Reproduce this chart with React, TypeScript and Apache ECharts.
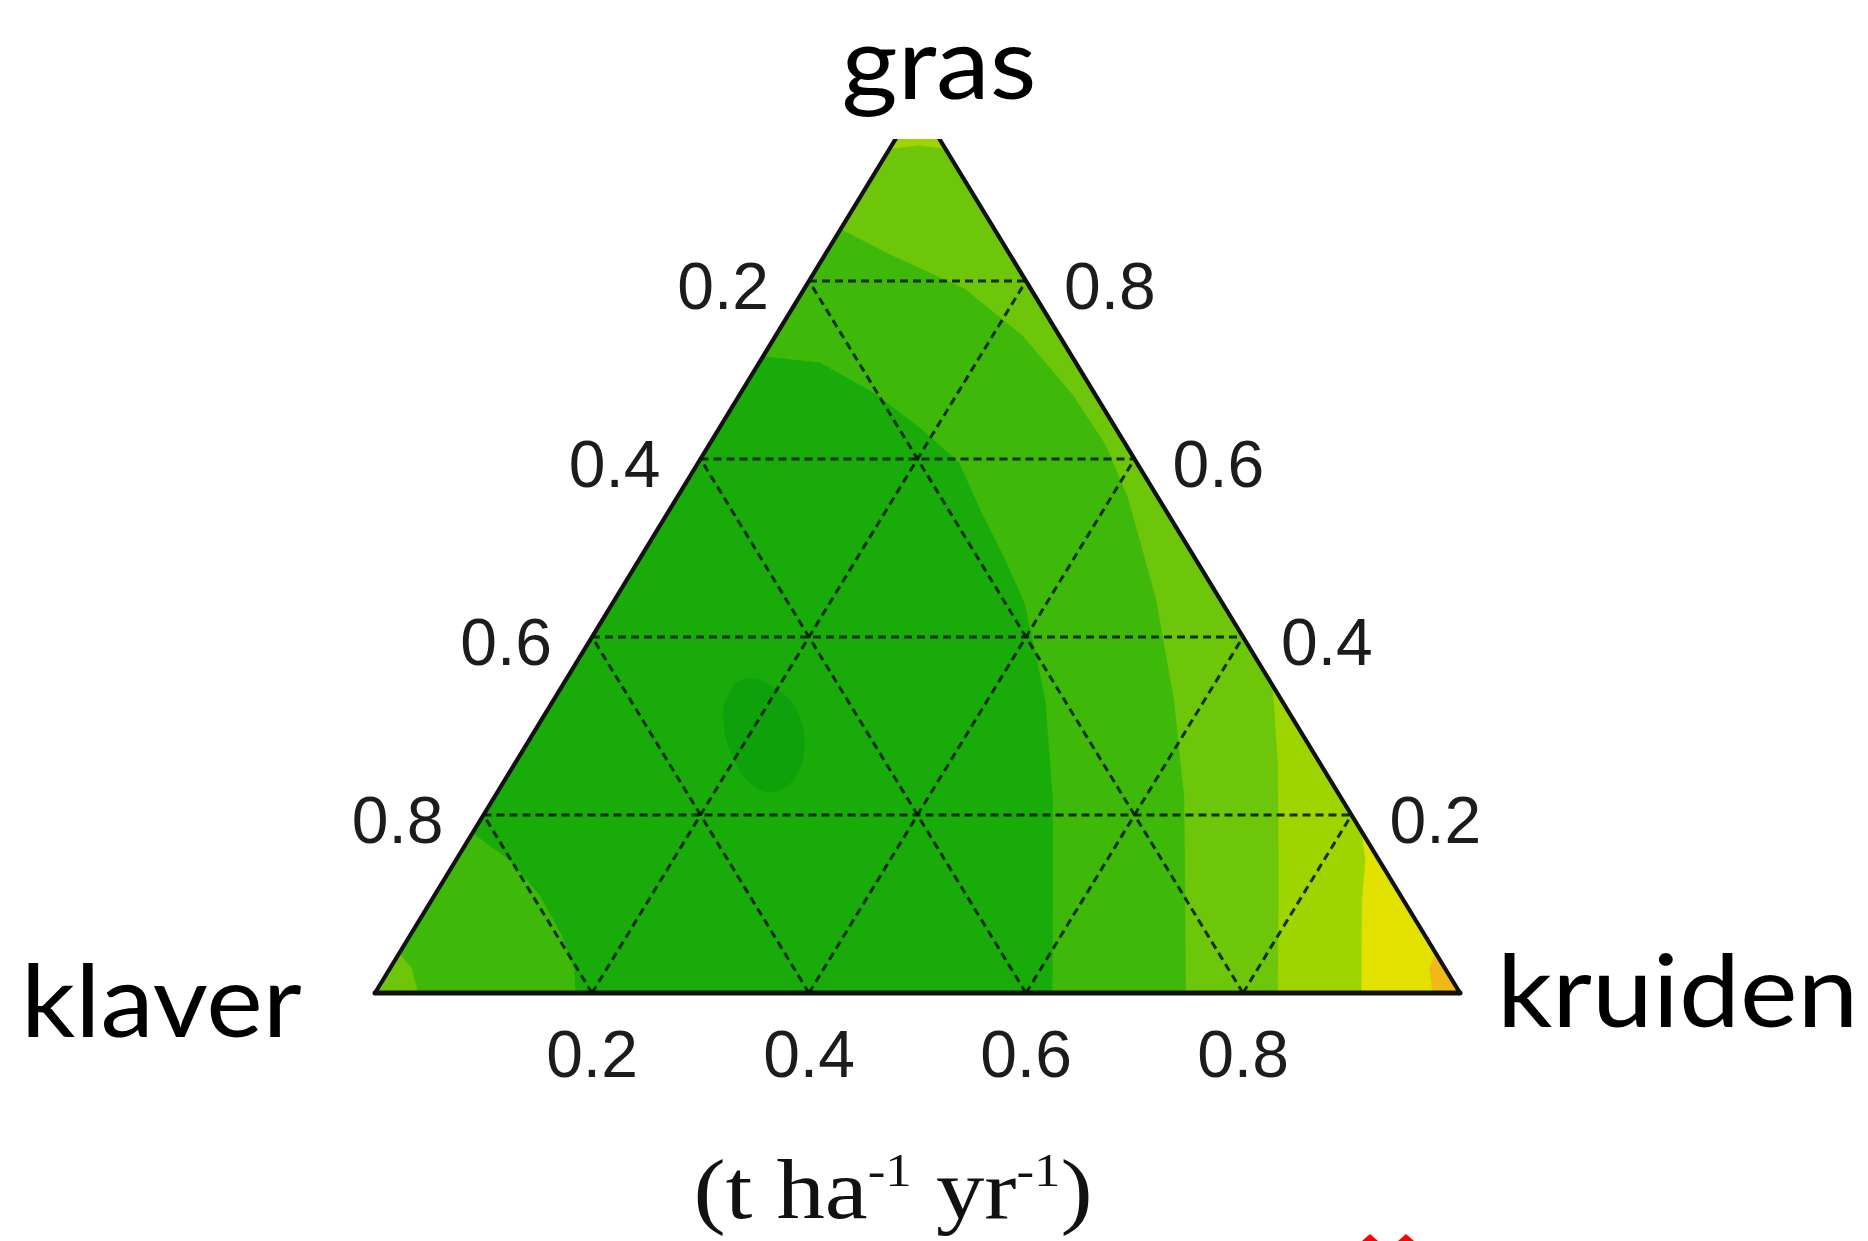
import React, { useEffect, useRef } from "react";
import * as echarts from "echarts";

// Ternary points are stored as [kruiden, gras]; klaver = 1 - kruiden - gras.
const TICKS = [0.2, 0.4, 0.6, 0.8];
const TICK_LABELS = ["0.2", "0.4", "0.6", "0.8"];
const CORNER_TOP = "gras";
const CORNER_LEFT = "klaver";
const CORNER_RIGHT = "kruiden";

const TRIANGLE: number[][] = [[0, 0], [1, 0], [0, 1]];

// Filled contour regions (super-level sets), from the lowest level to the highest.
const ZONE_ORANGE: number[][] = [[1, 0], [0.975, 0], [0.958, 0.028], [0.955, 0.045]];
const ZONE_LIGHT2: number[][] = [
  [0, 0], [0.909, 0], [0.885, 0.048], [0.857, 0.105], [0.838, 0.149], [0.818, 0.182], [0, 1],
];
const ZONE_LIGHT1: number[][] = [
  [0, 0], [0.832, 0], [0.769, 0.127], [0.704, 0.256], [0.654, 0.346],
  [0.052, 0.948], [0.026, 0.952], [0, 0.948],
];
const ZONE_MEDIUM: number[][] = [
  [0, 0.045], [0.02, 0.028], [0.04, 0], [0.747, 0], [0.694, 0.105], [0.636, 0.219],
  [0.571, 0.33], [0.498, 0.443], [0.415, 0.557], [0.366, 0.615], [0.308, 0.671],
  [0.228, 0.738], [0.148, 0.791], [0.063, 0.828], [0, 0.858],
];
const ZONE_DARK: number[][] = [
  [0, 0.18], [0.05, 0.149], [0.097, 0.11], [0.14, 0.065], [0.171, 0.026], [0.185, 0],
  [0.624, 0], [0.572, 0.105], [0.516, 0.217], [0.453, 0.329], [0.381, 0.436],
  [0.337, 0.487], [0.286, 0.543], [0.24, 0.596], [0.186, 0.634], [0.123, 0.674],
  [0.056, 0.708], [0, 0.715],
];
const ZONE_DARKEST: number[][] = [
  [0.165, 0.353], [0.197, 0.343], [0.231, 0.316], [0.256, 0.279], [0.266, 0.243],
  [0.253, 0.226], [0.228, 0.236], [0.196, 0.267], [0.169, 0.305], [0.158, 0.335],
];

const COLORS = {
  yellow: "#e3e100",
  orange: "#f0b818",
  light2: "#9ed500",
  light1: "#6dc609",
  medium: "#3eb90a",
  dark: "#19ab09",
  darkest: "#0ea10b",
};

const toCart = (p: number[]) => [p[0] + p[1] / 2, p[1]];

function zoneSeries(pts: number[][], color: string, smooth = 0) {
  return {
    type: "custom",
    coordinateSystem: "cartesian2d",
    silent: true,
    data: [[0, 0]],
    renderItem: (_params: any, api: any) => ({
      type: "polygon",
      shape: { points: pts.map((p) => api.coord(toCart(p))), smooth },
      style: { fill: color, stroke: color, lineWidth: 0.6 },
    }),
  };
}

export default function App() {
  const ref = useRef<HTMLDivElement>(null);
  useEffect(() => {
    if (!ref.current) return;
    const chart = echarts.init(ref.current, undefined, { renderer: "svg" });
    const gridStroke = "rgba(6,30,6,0.9)";
    const tickFont = { fontSize: 66, fontFamily: "Liberation Sans, Arial, sans-serif", fill: "#1c1c1c" };
    const cornerFont = { fontSize: 100, fontFamily: "Lato", fill: "#000" };

    const option: any = {
      animation: false,
      backgroundColor: "#ffffff",
      grid: { left: 375, top: 103, width: 1085, height: 890 },
      xAxis: { type: "value", min: 0, max: 1, show: false },
      yAxis: { type: "value", min: 0, max: 1, show: false },
      series: [
        zoneSeries(TRIANGLE, COLORS.yellow),
        zoneSeries(ZONE_ORANGE, COLORS.orange),
        zoneSeries(ZONE_LIGHT2, COLORS.light2),
        zoneSeries(ZONE_LIGHT1, COLORS.light1),
        zoneSeries(ZONE_MEDIUM, COLORS.medium),
        zoneSeries(ZONE_DARK, COLORS.dark),
        zoneSeries(ZONE_DARKEST, COLORS.darkest, 0.4),
        // dashed grid
        {
          type: "custom",
          coordinateSystem: "cartesian2d",
          silent: true,
          data: TICKS.map((t) => [t, 0]),
          renderItem: (params: any, api: any) => {
            const t = TICKS[params.dataIndex];
            const P = (p: number[]) => api.coord(toCart(p));
            const seg = (a: number[], b: number[]) => ({
              type: "line",
              shape: { x1: a[0], y1: a[1], x2: b[0], y2: b[1] },
              style: { stroke: gridStroke, lineWidth: 3, lineDash: [8, 5] },
            });
            return {
              type: "group",
              children: [
                seg(P([0, t]), P([1 - t, t])),
                seg(P([t, 0]), P([t, 1 - t])),
                seg(P([1 - t, 0]), P([0, 1 - t])),
              ],
            };
          },
        },
        // outline
        {
          type: "custom",
          coordinateSystem: "cartesian2d",
          silent: true,
          data: [[0, 0]],
          renderItem: (_params: any, api: any) => {
            const pts = TRIANGLE.map((p) => api.coord(toCart(p)));
            const seg = (a: number[], b: number[], w: number) => ({
              type: "line",
              shape: { x1: a[0], y1: a[1], x2: b[0], y2: b[1] },
              style: { stroke: "#111", lineWidth: w, lineCap: "round" },
            });
            return {
              type: "group",
              children: [seg(pts[0], pts[1], 5), seg(pts[0], pts[2], 4.2), seg(pts[1], pts[2], 4.2)],
            };
          },
        },
        // tick labels
        {
          type: "custom",
          coordinateSystem: "cartesian2d",
          silent: true,
          data: TICKS.map((t) => [t, 0]),
          renderItem: (params: any, api: any) => {
            const i = params.dataIndex;
            const t = TICKS[i];
            const lab = TICK_LABELS[i];
            const left = api.coord(toCart([0, 1 - t]));
            const right = api.coord(toCart([1 - t, t]));
            const bottom = api.coord(toCart([t, 0]));
            return {
              type: "group",
              children: [
                { type: "text", x: left[0] - 40, y: left[1] + 5, style: { ...tickFont, text: lab, align: "right", verticalAlign: "middle" } },
                { type: "text", x: right[0] + 38, y: right[1] + 5, style: { ...tickFont, text: lab, align: "left", verticalAlign: "middle" } },
                { type: "text", x: bottom[0], y: bottom[1] + 61, style: { ...tickFont, text: lab, align: "center", verticalAlign: "middle" } },
              ],
            };
          },
        },
      ],
      graphic: [
        { type: "rect", z: 100, shape: { x: 874, y: 90, width: 98, height: 49 }, style: { fill: "#ffffff" }, silent: true },
        { type: "text", z: 101, x: 939, y: 60, scaleX: 1.08, style: { ...cornerFont, text: CORNER_TOP, align: "center", verticalAlign: "middle" } },
        { type: "text", z: 101, x: 21, y: 998, scaleX: 1.07, style: { ...cornerFont, text: CORNER_LEFT, align: "left", verticalAlign: "middle" } },
        { type: "text", z: 101, x: 1497, y: 988, scaleX: 1.09, style: { ...cornerFont, text: CORNER_RIGHT, align: "left", verticalAlign: "middle" } },
        {
          type: "text",
          z: 101,
          x: 893,
          y: 1190,
          scaleX: 1.15,
          style: {
            text: "{a|(t ha}{s|-1}{a| yr}{s|-1}{a|)}",
            align: "center",
            verticalAlign: "middle",
            rich: {
              a: { fontSize: 84, fontFamily: "Liberation Serif", fill: "#111" },
              s: { fontSize: 46, fontFamily: "Liberation Serif", fill: "#111", verticalAlign: "top" },
            },
          },
        },
        { type: "polygon", z: 101, shape: { points: [[1362, 1241], [1370, 1234], [1378, 1241]] }, style: { fill: "#ff0000" } },
        { type: "polygon", z: 101, shape: { points: [[1398, 1241], [1406, 1234], [1414, 1241]] }, style: { fill: "#ff0000" } },
      ],
    };
    chart.setOption(option);
    return () => chart.dispose();
  }, []);
  return (
    <div
      ref={ref}
      style={{ position: "absolute", left: 0, top: 0, width: 1868, height: 1241, background: "#fff" }}
    />
  );
}
